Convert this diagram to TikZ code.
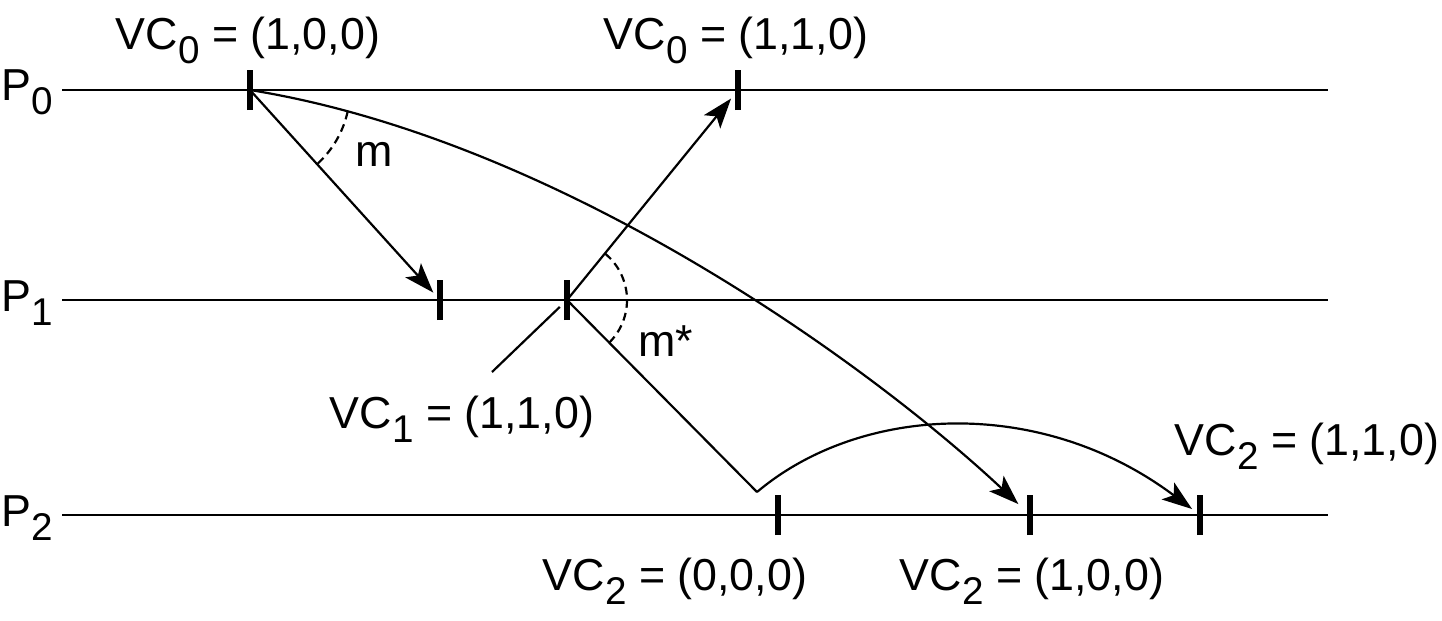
\documentclass[tikz,border=0pt]{standalone}
\usepackage{fontspec}
\setmainfont{Liberation Sans}
\usetikzlibrary{arrows.meta}
\newcommand\sbs[1]{\raisebox{-8pt}{\fontsize{22}{24}\selectfont #1}}
\begin{document}
\begin{tikzpicture}[x=0.02cm,y=-0.02cm,
  timeline/.style={line width=1.25pt},
  tickmark/.style={line width=3.4pt},
  msg/.style={line width=1.25pt,-{Stealth[length=0.6cm,width=0.42cm,inset=0.14cm]}},
  plain/.style={line width=1.25pt},
  angarc/.style={line width=1.25pt,dash pattern=on 4.5pt off 3pt},
  lbl/.style={font=\fontsize{25.5}{30}\selectfont,inner sep=0pt,anchor=base}]
\useasboundingbox (0,0) rectangle (1442,620);
% processes
\node[lbl] (p0) at (27,100) {P\sbs{0}};
\node[lbl] (p1) at (27,311) {P\sbs{1}};
\node[lbl] (p2) at (27,526) {P\sbs{2}};
\coordinate (l0s) at (62,90);  \coordinate (l0e) at (1328,90);
\coordinate (l1s) at (62,300); \coordinate (l1e) at (1328,300);
\coordinate (l2s) at (62,515); \coordinate (l2e) at (1328,515);
\draw[timeline] (l0s) -- (l0e);
\draw[timeline] (l1s) -- (l1e);
\draw[timeline] (l2s) -- (l2e);
% events
\coordinate (a) at (250,90);
\coordinate (b) at (738,90);
\coordinate (c) at (440,300);
\coordinate (d) at (567,300);
\coordinate (e) at (778,515);
\coordinate (f) at (1030,515);
\coordinate (g) at (1200,515);
\foreach \n in {a,b,c,d,e,f,g}
  \draw[tickmark] ([yshift=-0.4cm]\n) -- ([yshift=0.4cm]\n);
% messages
\draw[msg,shorten >=0.2cm] (a) -- (c);
\draw[msg,shorten >=0.32cm] (a) .. controls (560,140) and (870,365) .. (f);
\draw[msg,shorten >=0.22cm] (d) -- (b);
\coordinate (k) at (757,492);
\draw[plain] (d) -- (k);
\draw[msg,shorten >=0.2cm] (k) .. controls (860,405) and (1040,395) .. (g);
% pointer for VC1
\coordinate (ptr) at (492,372);
\draw[plain,shorten >=0.2cm] (ptr) -- (d);
% angle arcs
\draw[angarc] plot[domain=12.5:47.5,samples=30] ({250+100*cos(\x)},{90+100*sin(\x)});
\draw[angarc] plot[domain=-50.5:45.5,samples=40] ({567+60*cos(\x)},{300+60*sin(\x)});
\node[lbl] (m) at (374,166) {m};
\node[lbl] (ms) at (666,356) {m*};
% labels
\node[lbl] (vc0a) at (248,49) {VC\sbs{0} = (1,0,0)};
\node[lbl] (vc0b) at (736,49) {VC\sbs{0} = (1,1,0)};
\node[lbl] (vc1) at (462,428) {VC\sbs{1} = (1,1,0)};
\node[lbl] (vc2d) at (1307,455) {VC\sbs{2} = (1,1,0)};
\node[lbl] (vc2b) at (675,590) {VC\sbs{2} = (0,0,0)};
\node[lbl] (vc2c) at (1032,590) {VC\sbs{2} = (1,0,0)};
\end{tikzpicture}
\end{document}
